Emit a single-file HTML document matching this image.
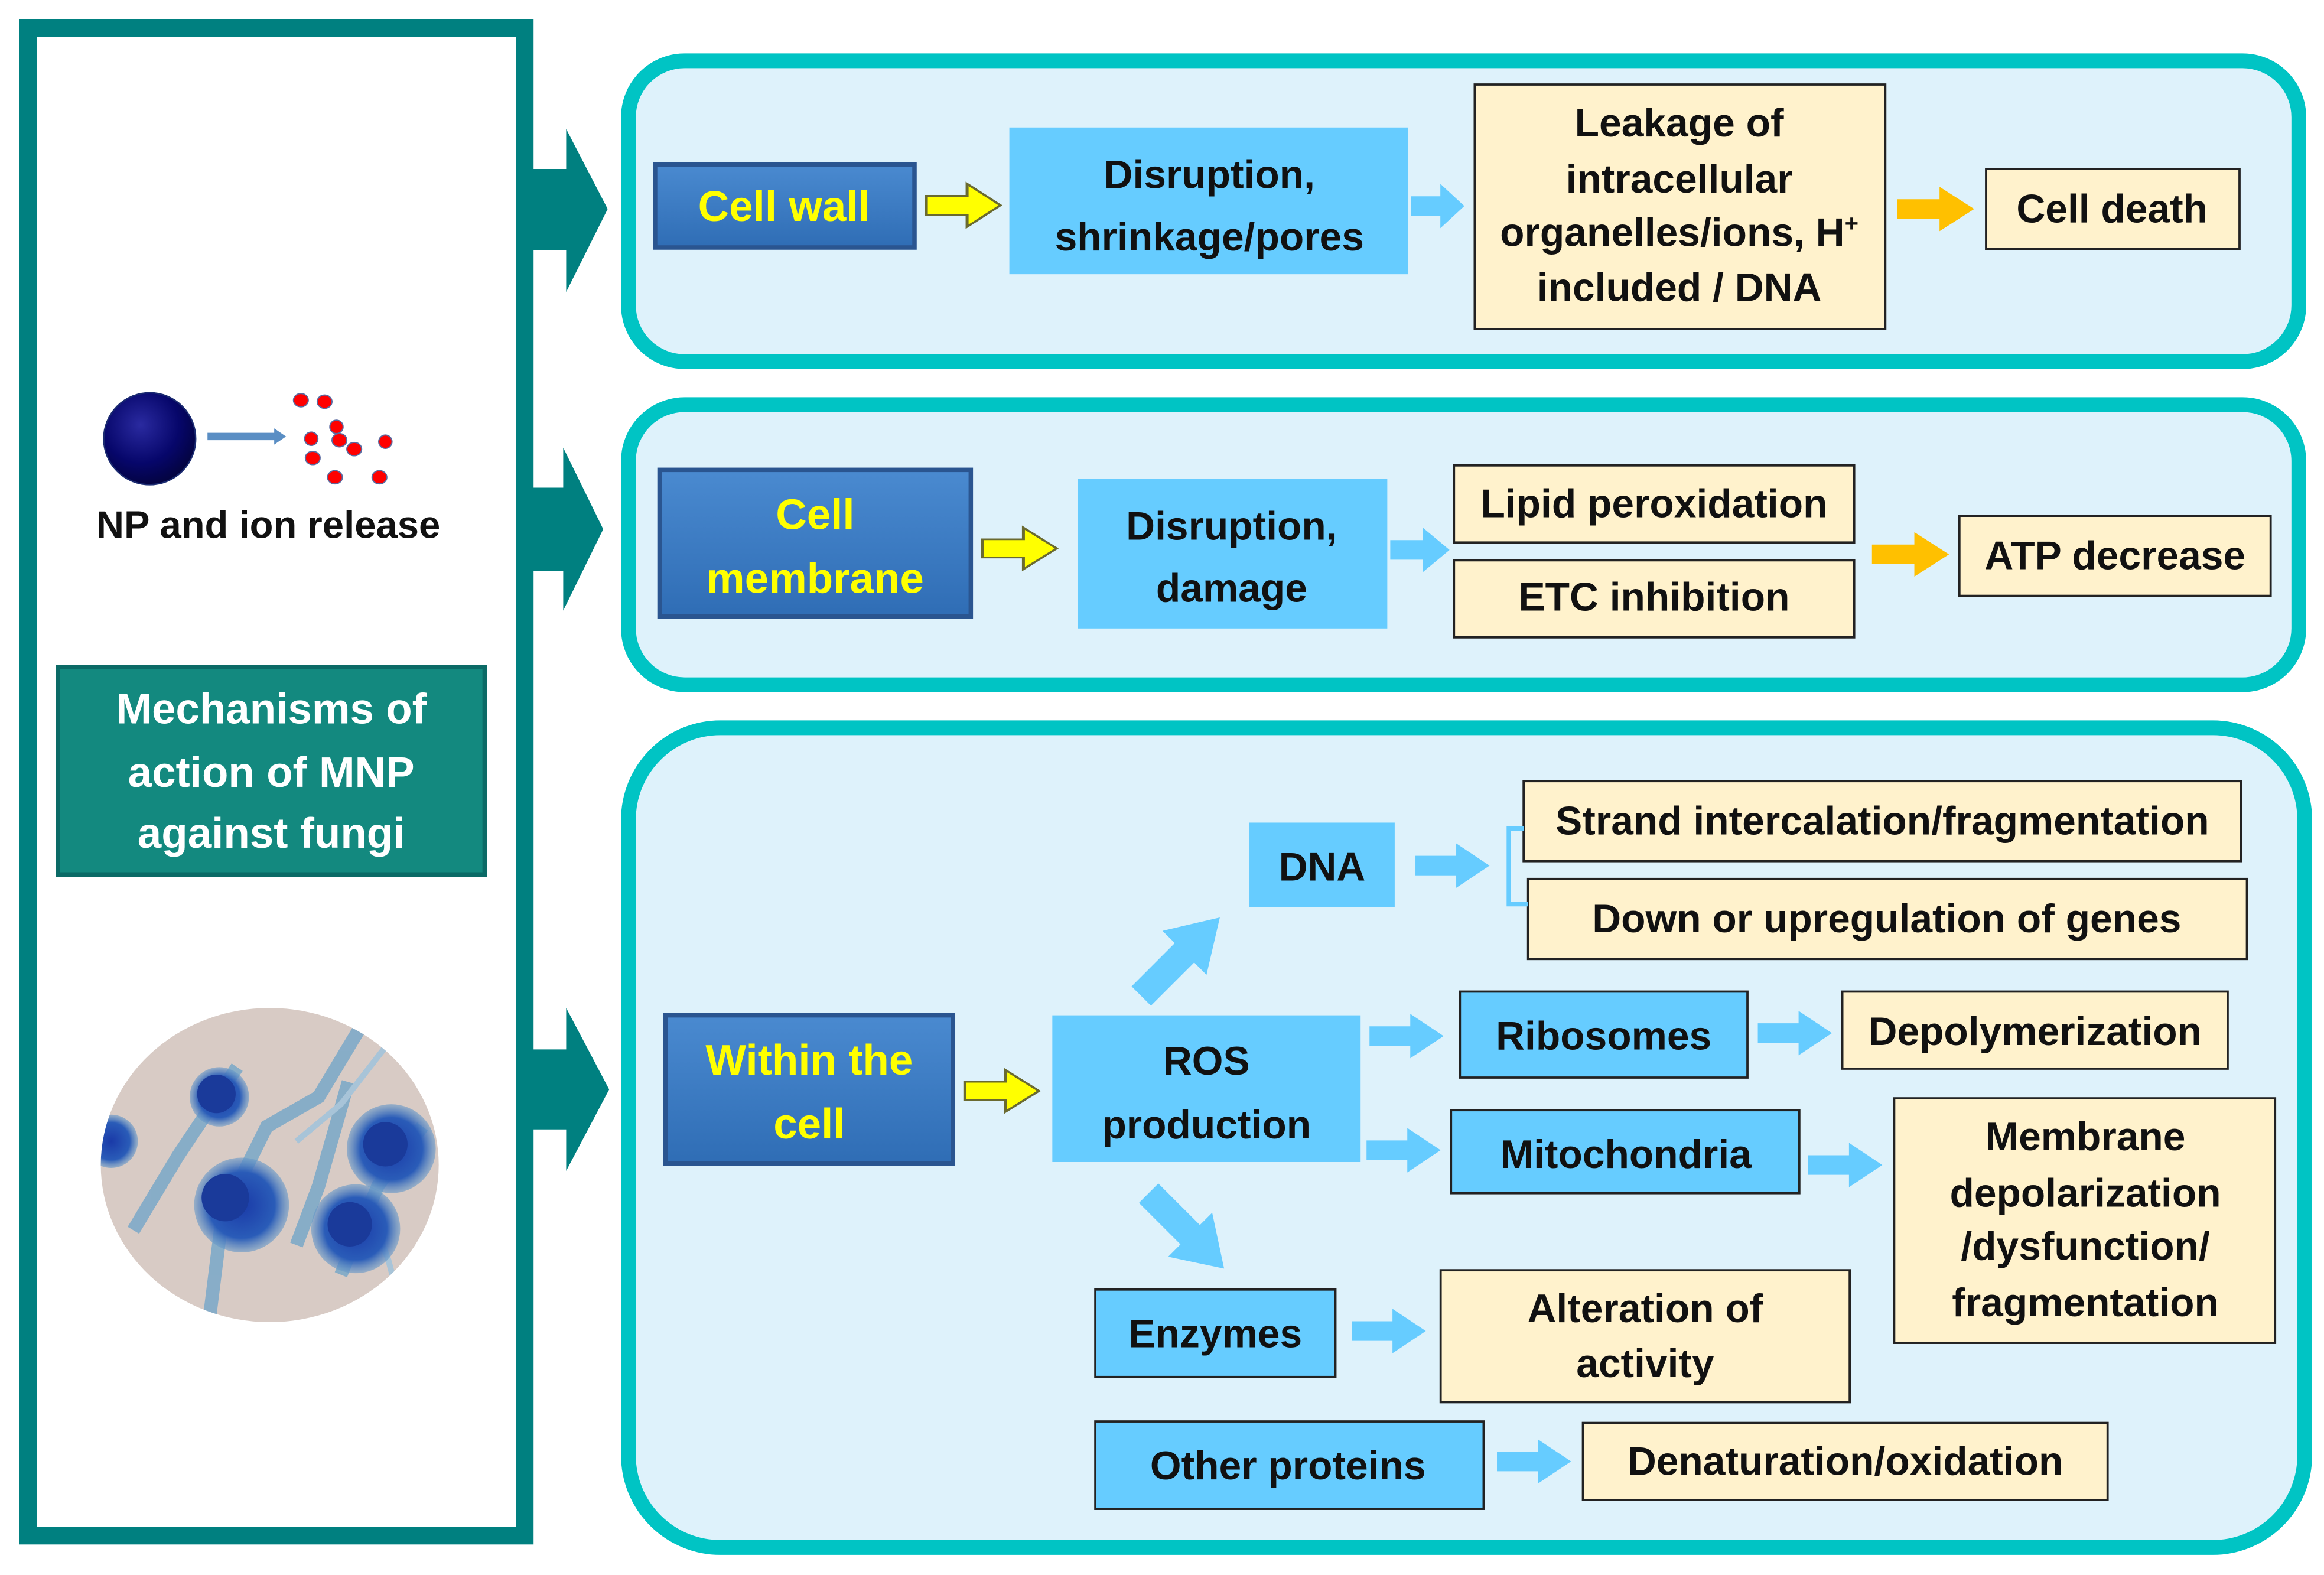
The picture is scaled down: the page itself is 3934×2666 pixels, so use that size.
<!DOCTYPE html>
<html><head><meta charset="utf-8"><style>
html,body{margin:0;padding:0;background:#fff;}
svg{display:block;}
text{font-family:"Liberation Sans",sans-serif;font-weight:bold;}
</style></head><body>
<svg width="3934" height="2666" viewBox="0 0 1568 1062.6" xmlns="http://www.w3.org/2000/svg">
<defs>
<polygon id="ar" points="0,0.28 0.55,0.28 0.55,0 1,0.5 0.55,1 0.55,0.72 0,0.72"/>
<linearGradient id="db" x1="0" y1="0" x2="0" y2="1"><stop offset="0" stop-color="#4a8ad0"/><stop offset="1" stop-color="#2f6db5"/></linearGradient>
<radialGradient id="np" cx="0.4" cy="0.35" r="0.7"><stop offset="0" stop-color="#2a2aa0"/><stop offset="0.6" stop-color="#06066a"/><stop offset="1" stop-color="#03033a"/></radialGradient>
<radialGradient id="sp" cx="0.5" cy="0.5" r="0.5"><stop offset="0" stop-color="#1a3aa8"/><stop offset="0.7" stop-color="#2a5cb8"/><stop offset="1" stop-color="#6a9ac8" stop-opacity="0.6"/></radialGradient>
<clipPath id="fc"><ellipse cx="182" cy="786" rx="114" ry="106"/></clipPath>
</defs>
<rect width="1568" height="1062.6" fill="#fff"/>
<!-- left panel -->
<rect x="19" y="19" width="335" height="1017" fill="#fff" stroke="#008080" stroke-width="12"/>
<!-- teal block arrows -->
<polygon points="358,114 382,114 382,87 410,141 382,197 382,169 358,169" fill="#008080"/>
<polygon points="358,329 380,329 380,302 407,357 380,412 380,385 358,385" fill="#008080"/>
<polygon points="358,708 382,708 382,680 411,735 382,790 382,762 358,762" fill="#008080"/>
<!-- NP -->
<circle cx="101" cy="296" r="31" fill="url(#np)" stroke="#1a2a70" stroke-width="1"/>
<line x1="140" y1="294.5" x2="186" y2="294.5" stroke="#5a8ec4" stroke-width="5"/>
<polygon points="185,289 193,294.5 185,300" fill="#5a8ec4"/>
<g fill="#ff0000" stroke="#5a6aa0" stroke-width="0.8">
<ellipse cx="203" cy="270" rx="5" ry="4.5"/><ellipse cx="219" cy="271" rx="5" ry="4.5"/>
<ellipse cx="227" cy="288" rx="4.5" ry="4.5"/><ellipse cx="210" cy="296" rx="4.5" ry="4.5"/>
<ellipse cx="229" cy="297" rx="5" ry="4.5"/><ellipse cx="239" cy="303" rx="5" ry="4.5"/>
<ellipse cx="260" cy="298" rx="4.5" ry="4.5"/><ellipse cx="211" cy="309" rx="5" ry="4.5"/>
<ellipse cx="226" cy="322" rx="5" ry="4.5"/><ellipse cx="256" cy="322" rx="5" ry="4.5"/>
</g>
<text x="181" y="363" font-size="26" text-anchor="middle" fill="#111">NP and ion release</text>
<!-- mechanisms box -->
<rect x="39" y="450" width="288" height="140" fill="#13897f" stroke="#0b6a66" stroke-width="3"/>
<g font-size="29" fill="#fff" text-anchor="middle">
<text x="183" y="488">Mechanisms  of</text>
<text x="183" y="531">action  of MNP</text>
<text x="183" y="572">against  fungi</text>
</g>
<!-- fungi -->
<ellipse cx="182" cy="786" rx="114" ry="106" fill="#d8cbc5"/>
<g clip-path="url(#fc)">
<g stroke="#7aa8c8" stroke-width="9" fill="none" opacity="0.85">
<path d="M160,720 L120,780 L90,830"/>
<path d="M245,690 L215,740 L180,760 L150,820 L140,900"/>
<path d="M285,760 L255,800 L230,860"/>
<path d="M235,730 L215,800 L200,840"/>
</g>
<g stroke="#a8c4d8" stroke-width="4" fill="none">
<path d="M265,700 L230,745 L200,770"/>
<path d="M247,810 L262,850 L270,880"/>
</g>
<circle cx="148" cy="740" r="20" fill="url(#sp)"/>
<circle cx="75" cy="770" r="18" fill="url(#sp)"/>
<circle cx="163" cy="813" r="32" fill="url(#sp)"/>
<circle cx="240" cy="829" r="30" fill="url(#sp)"/>
<circle cx="264" cy="775" r="30" fill="url(#sp)"/>
<circle cx="152" cy="808" r="16" fill="#1a3a9a"/>
<circle cx="236" cy="826" r="15" fill="#1a3a9a"/>
<circle cx="260" cy="772" r="15" fill="#1a3a9a"/>
<circle cx="146" cy="738" r="13" fill="#1a3a9a"/>
</g>
<!-- panels -->
<g fill="#def2fb" stroke="#00c4c4" stroke-width="10">
<rect x="424" y="41" width="1127" height="203" rx="38"/>
<rect x="424" y="273" width="1127" height="189" rx="38"/>
<rect x="424" y="491" width="1131" height="553" rx="62"/>
</g>
<!-- dark blue boxes -->
<g fill="url(#db)" stroke="#2a5590" stroke-width="3">
<rect x="442" y="111" width="175" height="56"/>
<rect x="445" y="317" width="210" height="99"/>
<rect x="449" y="685" width="194" height="100"/>
</g>
<g font-size="29" fill="#ffff00" text-anchor="middle">
<text x="529" y="149">Cell wall</text>
<text x="550" y="357">Cell</text>
<text x="550" y="400">membrane</text>
<text x="546" y="725">Within  the</text>
<text x="546" y="768">cell</text>
</g>
<!-- light blue boxes -->
<g fill="#66ccff">
<rect x="681" y="86" width="269" height="99"/>
<rect x="727" y="323" width="209" height="101"/>
<rect x="710" y="685" width="208" height="99"/>
<rect x="843" y="555" width="98" height="57"/>
</g>
<g fill="#66ccff" stroke="#222" stroke-width="1.5">
<rect x="985" y="669" width="194" height="58"/>
<rect x="979" y="749" width="235" height="56"/>
<rect x="739" y="870" width="162" height="59"/>
<rect x="739" y="959" width="262" height="59"/>
</g>
<!-- cream boxes -->
<g fill="#fff2cc" stroke="#222" stroke-width="1.5">
<rect x="995" y="57" width="277" height="165"/>
<rect x="1340" y="114" width="171" height="54"/>
<rect x="981" y="314" width="270" height="52"/>
<rect x="981" y="378" width="270" height="52"/>
<rect x="1322" y="348" width="210" height="54"/>
<rect x="1028" y="527" width="484" height="54"/>
<rect x="1031" y="593" width="485" height="54"/>
<rect x="1243" y="669" width="260" height="52"/>
<rect x="1278" y="741" width="257" height="165"/>
<rect x="972" y="857" width="276" height="89"/>
<rect x="1068" y="960" width="354" height="52"/>
</g>
<g font-size="27" fill="#111" text-anchor="middle">
<text x="816" y="127">Disruption,</text>
<text x="816" y="169">shrinkage/pores</text>
<text x="1133" y="92">Leakage of</text>
<text x="1133" y="130">intracellular</text>
<text x="1133" y="166">organelles/ions, H<tspan font-size="16" dy="-10">+</tspan></text>
<text x="1133" y="203">included / DNA</text>
<text x="1425" y="150">Cell death</text>
<text x="831" y="364">Disruption,</text>
<text x="831" y="406">damage</text>
<text x="1116" y="349">Lipid peroxidation</text>
<text x="1116" y="412">ETC inhibition</text>
<text x="1427" y="384">ATP decrease</text>
<text x="892" y="594">DNA</text>
<text x="814" y="725">ROS</text>
<text x="814" y="768">production</text>
<text x="1270" y="563">Strand intercalation/fragmentation</text>
<text x="1273" y="629">Down or upregulation of genes</text>
<text x="1082" y="708">Ribosomes</text>
<text x="1373" y="705">Depolymerization</text>
<text x="1097" y="788">Mitochondria</text>
<text x="1407" y="776">Membrane</text>
<text x="1407" y="814">depolarization</text>
<text x="1407" y="850">/dysfunction/</text>
<text x="1407" y="888">fragmentation</text>
<text x="820" y="909">Enzymes</text>
<text x="1110" y="892">Alteration of</text>
<text x="1110" y="929">activity</text>
<text x="869" y="998">Other proteins</text>
<text x="1245" y="995">Denaturation/oxidation</text>
</g>
<!-- yellow arrows -->
<g fill="#ffff00" stroke="#6a6a30">
<use href="#ar" transform="translate(625,124) scale(50,29)" vector-effect="non-scaling-stroke" stroke-width="0.04"/>
<use href="#ar" transform="translate(663,356) scale(50,28)" stroke-width="0.04"/>
<use href="#ar" transform="translate(651,722) scale(50,28)" stroke-width="0.04"/>
</g>
<!-- orange arrows -->
<g fill="#ffc000">
<use href="#ar" transform="translate(1280,126) scale(52,30)"/>
<use href="#ar" transform="translate(1263,359) scale(52,30)"/>
</g>
<!-- light blue arrows -->
<g fill="#66ccff">
<use href="#ar" transform="translate(952,124) scale(36,30)"/>
<use href="#ar" transform="translate(938,356) scale(40,30)"/>
<use href="#ar" transform="translate(955,569) scale(50,30)"/>
<use href="#ar" transform="translate(924,684) scale(50,30)"/>
<use href="#ar" transform="translate(1186,682) scale(50,30)"/>
<use href="#ar" transform="translate(922,761) scale(50,30)"/>
<use href="#ar" transform="translate(1220,771) scale(50,30)"/>
<use href="#ar" transform="translate(912,883) scale(50,30)"/>
<use href="#ar" transform="translate(1010,971) scale(50,30)"/>
<use href="#ar" transform="translate(770,672) rotate(-45) translate(0,-21) scale(75,42)"/>
<use href="#ar" transform="translate(775,805) rotate(45) translate(0,-21) scale(72,42)"/>
</g>
<!-- bracket -->
<path d="M1028,559 L1018,559 L1018,610 L1031,610" fill="none" stroke="#66ccff" stroke-width="3"/>
</svg>
</body></html>
